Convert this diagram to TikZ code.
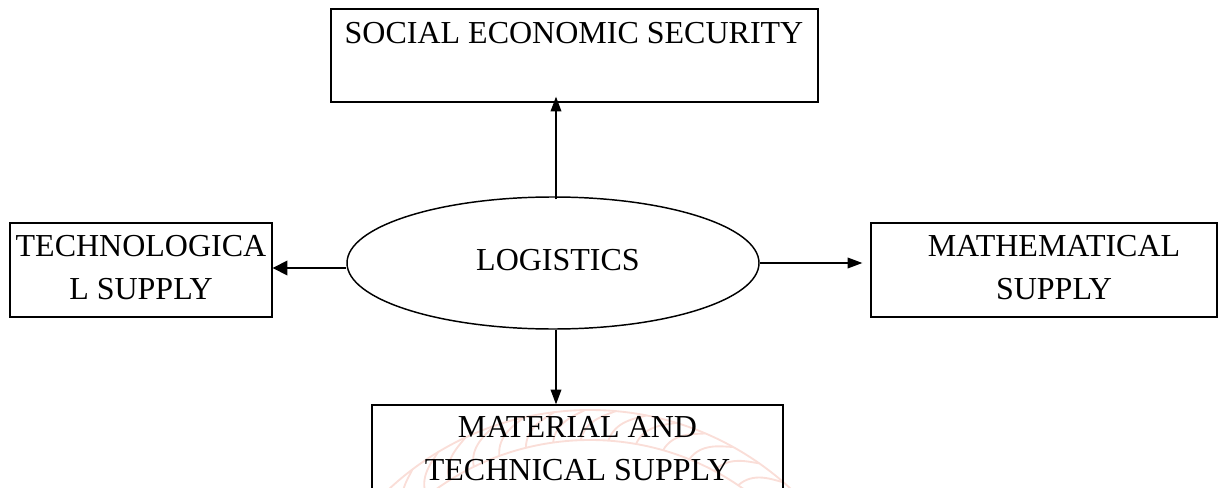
\documentclass[tikz,border=0pt]{standalone}
\usepackage{fontspec}
\setmainfont{Liberation Serif}
\usetikzlibrary{arrows.meta,shapes.geometric,calc}
\definecolor{wm}{RGB}{250,222,216}
\tikzset{
 x=0.75pt,y=-0.75pt,
 lbl/.style={font=\fontsize{24}{32}\selectfont,align=center,inner sep=0pt,text=black},
 boxed/.style={draw=black,line width=1pt,inner sep=0pt},
 conn/.style={draw=black,line width=1pt,-{Triangle[length=11pt,width=8pt]}},
 blob/.style={ellipse,draw=black,line width=1.1pt,inner sep=0pt,minimum width=309pt,minimum height=99pt},
 rope/.style={draw=wm,line width=1.4pt}
}
\begin{document}
\begin{tikzpicture}
\useasboundingbox (0,0) rectangle (1226,488);
\begin{scope}
\clip (0,0) rectangle (1226,488);
\coordinate (wc) at (590,705);
\draw[rope] (wc) circle[radius=295*0.75pt];
\draw[rope] (wc) circle[radius=265*0.75pt];
\foreach \a in {-140,-134,...,-40}{
  \draw[rope] ($(wc)+(\a:265)$) .. controls ($(wc)+(\a+1:285)$) and ($(wc)+(\a+5:290)$) .. ($(wc)+(\a+7:295)$);
}
\end{scope}
\node[boxed,minimum width=487*0.75pt,minimum height=93*0.75pt] (top) at (574.5,55.5) {};
\node[boxed,minimum width=262*0.75pt,minimum height=94*0.75pt] (left) at (141,270) {};
\node[boxed,minimum width=346*0.75pt,minimum height=94*0.75pt] (right) at (1044,270) {};
\node[boxed,minimum width=411*0.75pt,minimum height=120*0.75pt] (bot) at (577.5,465) {};
\node[blob] (log) at (553,263) {};
\node[lbl] (t1) at (574,33.5) {SOCIAL ECONOMIC SECURITY};
\node[lbl] (t2) at (141,267.5) {TECHNOLOGICA\\L SUPPLY};
\node[lbl] (t3) at (1054,267.5) {MATHEMATICAL\\SUPPLY};
\node[lbl] (t4) at (558,260) {LOGISTICS};
\node[lbl] (t5) at (577.5,448.5) {MATERIAL AND\\TECHNICAL SUPPLY};
\draw[conn,shorten >=-4.5pt] (log.north) ++(3,3) coordinate (a1) -- (a1 |- top.south);
\draw[conn,-{Triangle[length=11pt,width=11pt]}] (log.west) ++(0,5) coordinate (a3) -- (a3 -| left.east);
\draw[conn,shorten >=6pt] (log.east) -- (log.east -| right.west);
\draw[conn] (log.south) ++(3,0) coordinate (a2) -- (a2 |- bot.north);
\end{tikzpicture}
\end{document}
